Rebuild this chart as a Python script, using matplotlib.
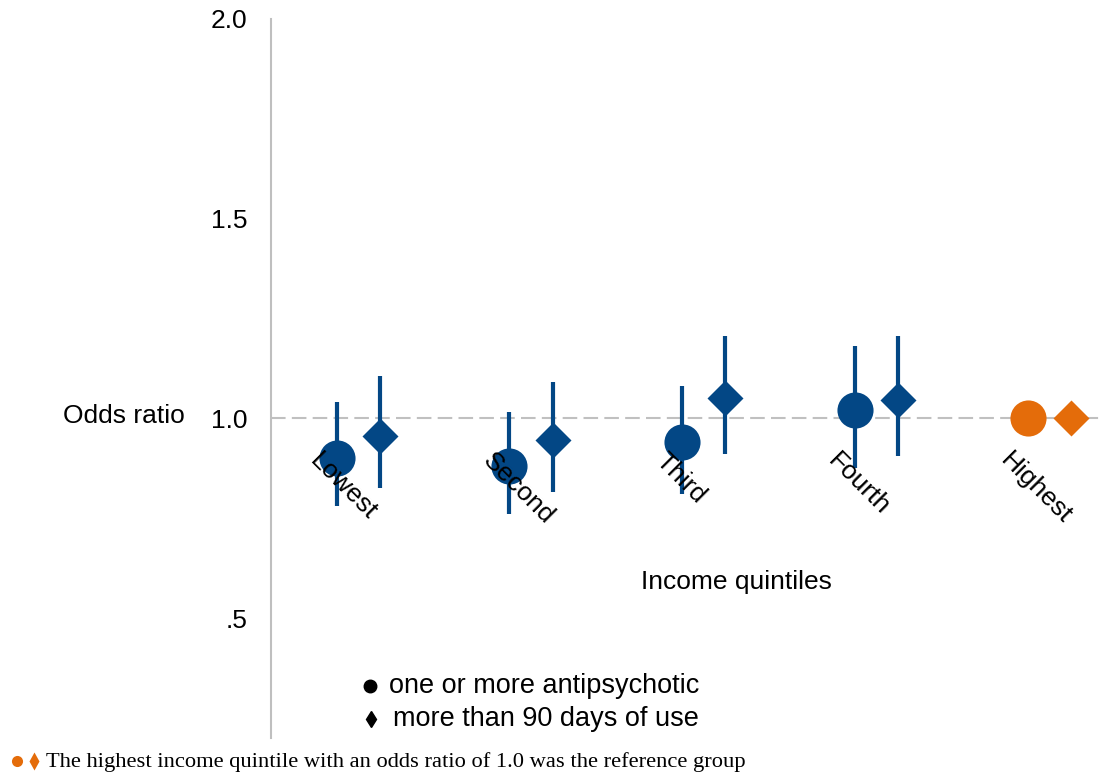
import matplotlib
matplotlib.use("Agg")
import matplotlib.pyplot as plt
from matplotlib.lines import Line2D
import numpy as np

# data
quintiles = ["Lowest", "Second", "Third", "Fourth", "Highest"]
or_any = [0.90, 0.88, 0.94, 1.02, 1.0]          # one or more antipsychotic
or_any_lo = [0.78, 0.76, 0.81, 0.875, None]
or_any_hi = [1.04, 1.015, 1.08, 1.18, None]
or_long = [0.955, 0.945, 1.05, 1.045, 1.0]     # more than 90 days of use
or_long_lo = [0.825, 0.815, 0.91, 0.905, None]
or_long_hi = [1.105, 1.09, 1.205, 1.205, None]
yticks = [0.5, 1.0, 1.5, 2.0]
ytick_labels = [".5", "1.0", "1.5", "2.0"]

BLUE = "#034785"
ORANGE = "#E46C0A"
plt.rcParams['font.family'] = ['Liberation Sans', 'DejaVu Sans']
FS = 19

fig = plt.figure(figsize=(11.04, 7.78), dpi=100)
ax = fig.add_axes([0.2455, 0.0514, 0.7505, 0.9246])

x = np.arange(len(quintiles))
off = 0.125

ax.axhline(1.0, color="#c0c0c0", lw=1.5, ls=(0, (7, 3)), zorder=1)

for i in range(len(quintiles)):
    ref = or_any_lo[i] is None
    col = ORANGE if ref else BLUE
    if not ref:
        ax.vlines(x[i] - off, or_any_lo[i], or_any_hi[i], color=BLUE, lw=3, zorder=2)
        ax.vlines(x[i] + off, or_long_lo[i], or_long_hi[i], color=BLUE, lw=3, zorder=2)
    ax.plot(x[i] - off, or_any[i], "o", ms=26, color=col, mec="none", zorder=3)
    ax.plot(x[i] + off, or_long[i], "D", ms=18.5, color=col, mec="none", zorder=3)
    ax.text(x[i] - 0.21, 0.925, quintiles[i], rotation=-45, rotation_mode="anchor",
            ha="left", va="top", fontsize=FS, zorder=4)

ax.set_xlim(-0.505, 4.29)
ax.set_ylim(0.2, 2.0)
ax.set_yticks(yticks)
ax.set_yticklabels(ytick_labels, fontsize=FS)
ax.set_xticks([])
ax.tick_params(axis="y", length=0, pad=17)
for s in ["top", "right", "bottom"]:
    ax.spines[s].set_visible(False)
ax.spines["left"].set_color("#bfbfbf")
ax.spines["left"].set_linewidth(1.5)

fig.text(63 / 1104, 1 - 416 / 778, "Odds ratio", fontsize=FS, ha="left", va="center")
ax.text(2.19, 0.59, "Income quintiles", fontsize=FS, ha="center", va="center")

# legend
ax.plot(0.07, 0.33, "o", ms=9, color="black", clip_on=False)
ax.text(0.175, 0.33, "one or more antipsychotic", fontsize=19.5, va="center")
ax.plot(0.075, 0.248, "d", ms=8, color="black", clip_on=False)
ax.text(0.2, 0.248, "more than 90 days of use", fontsize=19.5, va="center")

# footnote
fig.add_artist(Line2D([17 / 1104], [1 - 761 / 778], marker="o", ms=8, color=ORANGE,
                      mec="none", transform=fig.transFigure))
fig.add_artist(Line2D([34 / 1104], [1 - 761 / 778], marker="d", ms=9, color=ORANGE,
                      mec="none", transform=fig.transFigure))
fig.text(46 / 1104, 1 - 762 / 778,
         "The highest income quintile with an odds ratio of 1.0 was the reference group",
         fontsize=16.2, family=["Liberation Serif", "DejaVu Serif"], ha="left", va="center")

fig.savefig("out.png", dpi=100)
